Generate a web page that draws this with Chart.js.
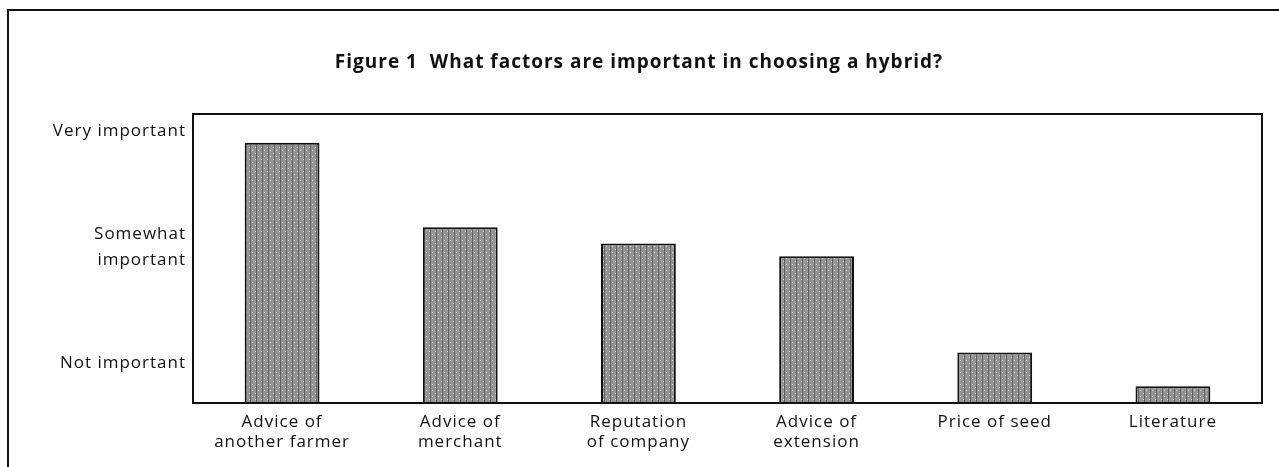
<!DOCTYPE html>
<html>
<head>
<meta charset="utf-8">
<script src="https://cdn.jsdelivr.net/npm/chart.js@4"></script>
<style>
  html, body { margin: 0; padding: 0; background: #fff; }
  #wrap { position: relative; width: 1279px; height: 467px; overflow: hidden; }
  #frame { position: absolute; left: 7px; top: 9px; right: 0; bottom: 0;
           border-top: 2px solid #111; border-left: 2px solid #111; }
  canvas { position: absolute; left: 0; top: 0; }
</style>
</head>
<body>
<div id="wrap">
  <div id="frame"></div>
  <canvas id="chart" width="1279" height="467"></canvas>
</div>
<script>
// Chart data (1 = not, 2 = somewhat, 3 = very important)
const categories = [
    ['Advice of', 'another farmer'],
    ['Advice of', 'merchant'],
    ['Reputation', 'of company'],
    ['Advice of', 'extension'],
    'Price of seed',
    'Literature'
];
const importance = [2.9, 2.17, 2.03, 1.92, 1.09, 0.8];
const tickValues = [1, 2, 3];
const tickLabels = ['Not important', ['Somewhat', 'important'], 'Very important'];

// stippled grey fill like the printed bars
function makePattern() {
    const c = document.createElement('canvas');
    c.width = 6;
    c.height = 6;
    const g = c.getContext('2d');
    g.fillStyle = '#949494';
    g.fillRect(0, 0, 6, 6);
    g.fillStyle = '#dcdcdc';
    g.fillRect(0, 0, 1, 1);
    g.fillRect(3, 3, 1, 1);
    g.fillStyle = '#626262';
    g.fillRect(4, 0, 1, 6);
    return g.createPattern(c, 'repeat');
}

// the printed type is set wide, so space the letters a little
const spacingPlugin = {
    id: 'spacing',
    beforeLayout(chart) { chart.ctx.letterSpacing = '1px'; },
    beforeDraw(chart) { chart.ctx.letterSpacing = '1px'; }
};

// box around the plot area
const boxPlugin = {
    id: 'box',
    afterDatasetsDraw(chart) {
        const { ctx, chartArea: a } = chart;
        ctx.save();
        ctx.strokeStyle = '#111';
        ctx.lineWidth = 2;
        ctx.strokeRect(a.left, a.top, a.right - a.left, a.bottom - a.top);
        ctx.restore();
    }
};

const ctx = document.getElementById('chart').getContext('2d');
new Chart(ctx, {
    type: 'bar',
    data: {
        labels: categories,
        datasets: [{
            data: importance,
            backgroundColor: makePattern(),
            borderColor: '#111',
            borderWidth: 2,
            categoryPercentage: 1,
            barPercentage: 0.42
        }]
    },
    options: {
        responsive: false,
        animation: false,
        layout: { padding: { left: 16, right: 17, top: 0, bottom: 0 } },
        plugins: {
            legend: { display: false },
            tooltip: { enabled: false },
            title: {
                display: true,
                text: 'Figure 1  What factors are important in choosing a hybrid?',
                color: '#111',
                font: { family: 'Open Sans', size: 19, weight: 'bold', lineHeight: 1.2 },
                padding: { top: 51, bottom: 40.2 }
            }
        },
        scales: {
            x: {
                grid: { display: false, drawTicks: false },
                border: { display: false },
                ticks: {
                    color: '#111',
                    padding: 9,
                    maxRotation: 0,
                    autoSkip: false,
                    font: { family: 'Open Sans', size: 17, lineHeight: 1.2 }
                },
                afterFit: (scale) => { scale.height = 64; }
            },
            y: {
                min: 0.655,
                max: 3.147,
                grid: { display: false, drawTicks: false },
                border: { display: false },
                afterBuildTicks: (scale) => {
                    scale.ticks = tickValues.map(v => ({ value: v }));
                },
                ticks: {
                    color: '#111',
                    padding: 7,
                    font: { family: 'Open Sans', size: 17, lineHeight: 1.55 },
                    callback: (value) => tickLabels[tickValues.indexOf(value)]
                },
                afterFit: (scale) => { scale.width = 177; }
            }
        }
    },
    plugins: [spacingPlugin, boxPlugin]
});
</script>
</body>
</html>
